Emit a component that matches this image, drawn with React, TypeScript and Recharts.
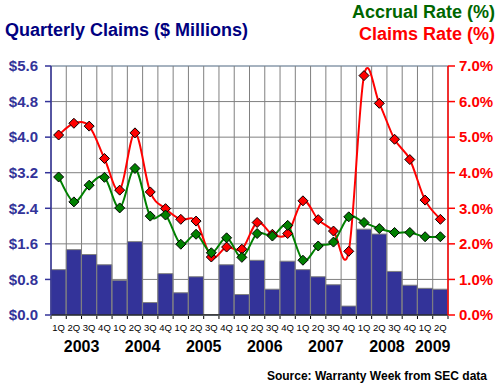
import React from 'react';
import { ComposedChart, Bar, Line, XAxis, YAxis, CartesianGrid } from 'recharts';

const quarterLabels = ['1Q','2Q','3Q','4Q','1Q','2Q','3Q','4Q','1Q','2Q','3Q','4Q','1Q','2Q','3Q','4Q','1Q','2Q','3Q','4Q','1Q','2Q','3Q','4Q','1Q','2Q'];
const quarterYears = ['2003','2003','2003','2003','2004','2004','2004','2004','2005','2005','2005','2005','2006','2006','2006','2006','2007','2007','2007','2007','2008','2008','2008','2008','2009','2009'];
const claimsMillions = [1.02,1.47,1.36,1.13,0.78,1.65,0.28,0.93,0.50,0.86,0.01,1.13,0.46,1.23,0.58,1.21,1.02,0.86,0.68,0.20,1.93,1.82,0.98,0.67,0.60,0.58];
const accrualRate = [3.88,3.18,3.65,3.87,3.01,4.12,2.78,2.81,1.99,2.27,1.75,2.17,1.62,2.29,2.22,2.52,1.54,1.94,2.05,2.76,2.60,2.43,2.32,2.32,2.20,2.20];
const claimsRate = [5.06,5.39,5.31,4.40,3.51,5.12,3.46,2.99,2.69,2.64,1.63,1.91,1.85,2.60,2.27,2.29,3.21,2.68,2.36,1.79,6.73,5.95,4.94,4.37,3.23,2.69];

const leftTicks = [0, 0.8, 1.6, 2.4, 3.2, 4.0, 4.8, 5.6];
const leftMinorTicks = Array.from({ length: 36 }, (_, k) => +(k * 0.16).toFixed(2));
const rightTicks = [0, 1, 2, 3, 4, 5, 6, 7];
const rightMinorTicks = Array.from({ length: 36 }, (_, k) => +(k * 0.2).toFixed(1));

const data = quarterLabels.map((q, i) => ({
  key: `${quarterYears[i]}-${q}`,
  q,
  year: quarterYears[i],
  claims: claimsMillions[i],
  accrual: accrualRate[i],
  rate: claimsRate[i],
}));

const W = 500;
const H = 387;
const LEFT_W = 51;
const RIGHT_W = 52;
const PLOT_W = W - LEFT_W - RIGHT_W;
const BAND = PLOT_W / data.length;
const FONT = '"Liberation Sans", Arial, Helvetica, sans-serif';

const cardinal = (context: any) => {
  let pts: [number, number][] = [];
  return {
    areaStart() {},
    areaEnd() {},
    lineStart() { pts = []; },
    lineEnd() {
      if (!pts.length) return;
      context.moveTo(pts[0][0], pts[0][1]);
      for (let i = 0; i < pts.length - 1; i++) {
        const p0 = pts[i - 1] || pts[i];
        const p1 = pts[i];
        const p2 = pts[i + 1];
        const p3 = pts[i + 2] || p2;
        context.bezierCurveTo(
          p1[0] + (p2[0] - p0[0]) / 6, p1[1] + (p2[1] - p0[1]) / 6,
          p2[0] - (p3[0] - p1[0]) / 6, p2[1] - (p3[1] - p1[1]) / 6,
          p2[0], p2[1]
        );
      }
    },
    point(x: number, y: number) { pts.push([+x, +y]); },
  };
};

const makeDiamond = (fill: string) => (p: any) => {
  const { cx, cy, index } = p;
  if (cx == null || cy == null) return <g key={`d-${fill}-${index}`} />;
  const r = 5;
  return (
    <path
      key={`d-${fill}-${index}`}
      d={`M${cx},${cy - r}L${cx + r},${cy}L${cx},${cy + r}L${cx - r},${cy}Z`}
      fill={fill}
      stroke="#000"
      strokeWidth={1}
    />
  );
};

const XTick = (props: any) => {
  const { x, y, index } = props;
  const i = index as number;
  const year = quarterYears[i];
  const isFirst = i === 0 || quarterYears[i - 1] !== year;
  const count = quarterYears.filter((yy) => yy === year).length;
  const left = x - BAND / 2;
  return (
    <g>
      <line x1={left} y1={y + 1} x2={left} y2={y + 4} stroke="#000" />
      {i === data.length - 1 && <line x1={x + BAND / 2} y1={y + 1} x2={x + BAND / 2} y2={y + 4} stroke="#000" />}
      <text x={x} y={y + 15.5} textAnchor="middle" fontSize={9.5} fontFamily={FONT} fill="#000">{quarterLabels[i]}</text>
      {isFirst && (
        <text x={left + (count * BAND) / 2} y={y + 37} textAnchor="middle" fontSize={16} fontWeight="bold" fontFamily={FONT} fill="#000">{year}</text>
      )}
    </g>
  );
};

export default function App() {
  return (
    <div style={{ position: 'absolute', left: 0, top: 0, width: W, height: H, background: '#fff' }}>
      <ComposedChart
        width={W}
        height={H}
        data={data}
        margin={{ top: 66, right: 0, left: 0, bottom: 42 }}
        barCategoryGap={0}
        barGap={0}
      >
        <CartesianGrid yAxisId="leftMinor" horizontal vertical={false} stroke="#99ccff" strokeWidth={1} />
        <CartesianGrid
          yAxisId="left"
          horizontal
          vertical
          stroke="#808080"
          strokeWidth={1}
          verticalCoordinatesGenerator={({ offset }: any) =>
            Array.from({ length: data.length + 1 }, (_, k) => offset.left + (offset.width * k) / data.length)
          }
        />
        <XAxis
          dataKey="key"
          interval={0}
          height={30}
          tickLine={false}
          tickSize={0}
          tickMargin={0}
          axisLine={{ stroke: '#000' }}
          tick={<XTick />}
        />
        <YAxis
          yAxisId="left"
          orientation="left"
          width={LEFT_W}
          domain={[0, 5.6]}
          ticks={leftTicks}
          interval={0}
          allowDataOverflow
          tickFormatter={(v: number) => `$${v.toFixed(1)}`}
          tick={{ fill: '#333399', fontSize: 15, fontWeight: 'bold', fontFamily: FONT }}
          axisLine={{ stroke: '#333399', strokeWidth: 1.5 }}
          tickLine={{ stroke: '#333399', strokeWidth: 1.5 }}
          tickSize={6}
          tickMargin={7}
        />
        <YAxis
          yAxisId="leftMinor"
          orientation="left"
          mirror
          width={0}
          domain={[0, 5.6]}
          ticks={leftMinorTicks}
          interval={0}
          allowDataOverflow
          tick={false}
          axisLine={false}
          tickLine={{ stroke: '#333399', strokeWidth: 1.5 }}
          tickSize={4}
        />
        <YAxis
          yAxisId="right"
          orientation="right"
          width={RIGHT_W}
          domain={[0, 7]}
          ticks={rightTicks}
          interval={0}
          allowDataOverflow
          tickFormatter={(v: number) => `${v.toFixed(1)}%`}
          tick={{ fill: '#ff0000', fontSize: 15, fontWeight: 'bold', fontFamily: FONT }}
          axisLine={{ stroke: '#ff0000', strokeWidth: 1.5 }}
          tickLine={{ stroke: '#ff0000', strokeWidth: 1.5 }}
          tickSize={7}
          tickMargin={4}
        />
        <YAxis
          yAxisId="rightMinor"
          orientation="right"
          width={0}
          domain={[0, 7]}
          ticks={rightMinorTicks}
          interval={0}
          allowDataOverflow
          tick={false}
          axisLine={false}
          tickLine={{ stroke: '#ff0000', strokeWidth: 1.5 }}
          tickSize={4}
        />
        <Bar yAxisId="left" dataKey="claims" fill="#333399" stroke="#808080" strokeWidth={1} isAnimationActive={false} />
        <Line
          yAxisId="right"
          dataKey="rate"
          type={cardinal as any}
          stroke="#ff0000"
          strokeWidth={2}
          dot={makeDiamond('#ff0000')}
          activeDot={false}
          isAnimationActive={false}
        />
        <Line
          yAxisId="right"
          dataKey="accrual"
          type={cardinal as any}
          stroke="#008000"
          strokeWidth={2}
          dot={makeDiamond('#008000')}
          activeDot={false}
          isAnimationActive={false}
        />
      </ComposedChart>
      <svg width={W} height={H} style={{ position: 'absolute', left: 0, top: 0, pointerEvents: 'none' }}>
        <text x={5} y={36} fontSize={18} fontWeight="bold" fontFamily={FONT} fill="#000080">Quarterly Claims ($ Millions)</text>
        <text x={495} y={18} textAnchor="end" fontSize={18} fontWeight="bold" fontFamily={FONT} fill="#006600">Accrual Rate (%)</text>
        <text x={495} y={40} textAnchor="end" fontSize={18} fontWeight="bold" fontFamily={FONT} fill="#ff0000">Claims Rate (%)</text>
        <text x={487} y={380} textAnchor="end" fontSize={12} fontWeight="bold" fontFamily={FONT} fill="#000">Source: Warranty Week from SEC data</text>
      </svg>
    </div>
  );
}
